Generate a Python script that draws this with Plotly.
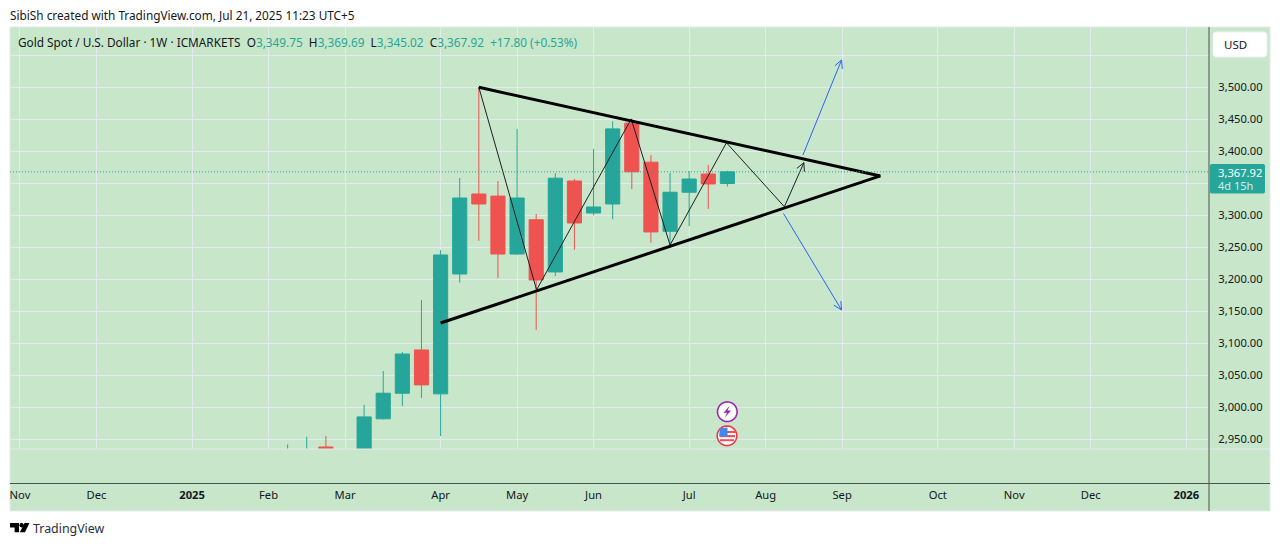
import math
import plotly.graph_objects as go

# ---- candle data (week index, 0 = week of 31 Mar 2025) ----
weeks  = [-8, -7, -6, -5, -4, -3, -2, -1, 0, 1, 2, 3, 4, 5, 6, 7, 8, 9, 10, 11, 12, 13, 14, 15]
opens  = [2861, 2882, 2938, 2858, 2910, 2982, 3022, 3089.6, 3021, 3208.3, 3333.3, 3330, 3239.5, 3293, 3211.5, 3353.6, 3303.6, 3317.7, 3444, 3383, 3275, 3336, 3364.5, 3349.75]
highs  = [2942, 2954, 2955, 2930, 3004, 3056.6, 3086.4, 3167.6, 3245.6, 3358.3, 3500, 3353.6, 3435, 3302, 3366, 3356.8, 3403.6, 3447, 3451, 3394, 3366, 3369, 3378.6, 3369.69]
lows   = [2855, 2877, 2833, 2833, 2903, 2981, 3002, 3014.6, 2955, 3195, 3260, 3202, 3238, 3121, 3205, 3246, 3300, 3294, 3341, 3257, 3249, 3283, 3310, 3345.02]
closes = [2882, 2934, 2858, 2910, 2985, 3022, 3083.3, 3035, 3238, 3327, 3317.7, 3239.5, 3327, 3199, 3358, 3288, 3313, 3435, 3368, 3274, 3336, 3356.7, 3349, 3367.92]

# ---- hand-drawn pattern lines ----
upper_x, upper_y = [2.0, 23.0], [3500, 3361.5]
lower_x, lower_y = [0.0, 23.0], [3131.7, 3361.5]
zig_x = [2.0, 5.02, 9.97, 12.0, 14.95, 17.98, 19.0]
zig_y = [3500, 3183.5, 3450.5, 3253.6, 3413.4, 3313.4, 3382.2]
up_x, up_y = [18.95, 20.97], [3394.2, 3542.7]
down_x, down_y = [17.93, 20.97], [3303, 3152]
last_price = 3367.92

# ---- axis labels ----
time_ticks  = [-22, -18, -13, -9, -5, 0, 4, 8, 13, 17, 21, 26, 30, 34, 39]
time_labels = ["Nov", "Dec", "<b>2025</b>", "Feb", "Mar", "Apr", "May", "Jun", "Jul", "Aug", "Sep", "Oct", "Nov", "Dec", "<b>2026</b>"]
price_ticks  = [2950, 3000, 3050, 3100, 3150, 3200, 3250, 3300, 3350, 3400, 3450, 3500, 3550]
price_labels = ["2,950.00", "3,000.00", "3,050.00", "3,100.00", "3,150.00", "3,200.00", "3,250.00", "3,300.00", "", "3,400.00", "3,450.00", "3,500.00", ""]

# ---- style / geometry ----
W, H = 1281, 546
L, R, T, B = 10, 1209, 27, 449
STEP = 19.12
XR = [(10 - 440.6) / STEP, (1209 - 440.6) / STEP]
YR = [3500 - (449 - 87.3) / 0.64, 3500 + (87.3 - 27) / 0.64]
BG, GRID, TEAL, RED, INK = "#c8e6c9", "#e3ebec", "#26a69a", "#ef5350", "#131722"
FONT = "Noto Sans"


def px(v):
    return (v - L) / (R - L)


def py(v):
    return (B - v) / (B - T)


def rect(x0, y0, x1, y1, fill, line=None, width=0, layer="above"):
    return dict(type="rect", xref="paper", yref="paper", x0=px(x0), x1=px(x1), y0=py(y0), y1=py(y1),
                fillcolor=fill, line=dict(color=line or fill, width=width), layer=layer)


def hline(x0, y, x1, color, width=1, layer="above"):
    return dict(type="line", xref="paper", yref="paper", x0=px(x0), x1=px(x1), y0=py(y), y1=py(y),
                line=dict(color=color, width=width), layer=layer)


def vline(x, y0, y1, color, width=1, layer="above"):
    return dict(type="line", xref="paper", yref="paper", x0=px(x), x1=px(x), y0=py(y0), y1=py(y1),
                line=dict(color=color, width=width), layer=layer)


def poly(points, fill, line=None, width=0):
    d = "M" + "L".join(f"{px(a):.5f},{py(b):.5f}" for a, b in points) + "Z"
    return dict(type="path", xref="paper", yref="paper", path=d, fillcolor=fill,
                line=dict(color=line or fill, width=width), layer="above")


def disc(cx, cy, r, fill, line=None, width=0):
    pts = [(cx + r * math.cos(i * math.pi / 24), cy + r * math.sin(i * math.pi / 24)) for i in range(48)]
    return poly(pts, fill, line, width)


def rounded(x0, y0, x1, y1, r, fill, line=None, width=0):
    pts = []
    for cx, cy, a0 in [(x1 - r, y0 + r, -90), (x1 - r, y1 - r, 0), (x0 + r, y1 - r, 90), (x0 + r, y0 + r, 180)]:
        for k in range(7):
            a = math.radians(a0 + k * 15)
            pts.append((cx + r * math.cos(a), cy + r * math.sin(a)))
    return poly(pts, fill, line, width)


def text(x, y, s, size=12, color=INK, anchor="left"):
    return dict(xref="paper", yref="paper", x=px(x), y=py(y), text=s, showarrow=False, xanchor=anchor, yanchor="middle",
                font=dict(family=FONT, size=size, color=color), borderpad=0, borderwidth=0)


def barbs(xs, ys, size=9, spread=27):
    """Open arrow head at the end of a segment, built in screen space and mapped back to data."""
    sx, sy = STEP, 0.64
    dx, dy = (xs[-1] - xs[-2]) * sx, (ys[-1] - ys[-2]) * sy
    ang = math.atan2(dy, dx)
    out_x, out_y = [], []
    for s in (1, -1):
        a = ang + math.pi + s * math.radians(spread)
        out_x.append(xs[-1] + size * math.cos(a) / sx)
        out_y.append(ys[-1] + size * math.sin(a) / sy)
    return [out_x[0], xs[-1], out_x[1]], [out_y[0], ys[-1], out_y[1]]


fig = go.Figure()
fig.add_trace(go.Candlestick(
    x=weeks, open=opens, high=highs, low=lows, close=closes, whiskerwidth=0, hoverinfo="skip",
    increasing=dict(line=dict(color=TEAL, width=1), fillcolor=TEAL),
    decreasing=dict(line=dict(color=RED, width=1), fillcolor=RED),
))


def add_line(xs, ys, color, width):
    fig.add_trace(go.Scatter(x=xs, y=ys, mode="lines", line=dict(color=color, width=width), hoverinfo="skip"))


add_line(zig_x, zig_y, "#1c1f26", 1)
hx, hy = barbs(zig_x[-2:], zig_y[-2:])
add_line(hx, hy, "#1c1f26", 1)
add_line(up_x, up_y, "#2962ff", 1)
hx, hy = barbs(up_x, up_y)
add_line(hx, hy, "#2962ff", 1)
add_line(down_x, down_y, "#2962ff", 1)
hx, hy = barbs(down_x, down_y)
add_line(hx, hy, "#2962ff", 1)
add_line(upper_x, upper_y, "#000000", 3)
add_line(lower_x, lower_y, "#000000", 3)

shapes = [
    rect(10, 27, 1270, 511, BG, "#e6e9ee", 1, layer="below"),
    hline(10, 449, 1270, GRID),
    hline(10, 483.5, 1270, "#4a524e"),
    vline(1209, 27, 511, "#4a524e"),
    dict(type="line", xref="x", yref="y", x0=XR[0], x1=XR[1], y0=last_price, y1=last_price,
         line=dict(color=TEAL, width=1, dash="1px,2px"), layer="above"),
    rounded(1213, 32, 1267, 57, 3, "#ffffff", "#eef0f3", 1),
    rounded(1210, 164, 1265, 193.5, 2, TEAL),
    # event markers
    disc(727.3, 411.7, 9.8, "#ffffff", "#9c27b0", 1.6),
    poly([(729.6, 405.8), (723.6, 412.8), (727, 412.8), (725, 417.6), (731, 410.6), (727.6, 410.6)], "#9c27b0"),
    disc(727, 435.8, 9.8, "#ffffff", "#f23645", 1.6),
    rect(720, 431, 736, 433, "#f0505c"),
    rect(720, 435, 735, 437.2, "#f0505c"),
    rect(720, 439.2, 734, 441.2, "#f0505c"),
    poly([(720, 429), (722, 428), (727.5, 427.5), (727.5, 436.5), (719, 436.5)], "#3d8bf0"),
    # TradingView mark
    poly([(10, 523), (19, 523), (19, 532.2), (14.6, 532.2), (14.6, 527.6), (10, 527.6)], "#000000"),
    disc(21.6, 525.2, 2.2, "#000000"),
    poly([(24.6, 523), (29.4, 523), (25, 532.2), (19.8, 532.2)], "#000000"),
]

value = lambda s: f'<span style="color:{TEAL}">{s}</span>'
legend = ("Gold Spot / U.S. Dollar · 1W · ICMARKETS  O" + value("3,349.75") + "  H" + value("3,369.69") +
          "  L" + value("3,345.02") + "  C" + value("3,367.92") + "  " + value("+17.80 (+0.53%)"))

annotations = [
    text(10, 15, "SibiSh created with TradingView.com, Jul 21, 2025 11:23 UTC+5", 11.8),
    text(18, 42, legend, 11.8),
    text(1224, 44.5, "USD", 11.5),
    text(1218, 172, "3,367.92", 11.2, "#ffffff"),
    text(1218, 185, "4d 15h", 11, "#d4eeeb"),
    text(33, 528, "TradingView", 12.4, "#2a2e39"),
]

fig.update_layout(
    width=W, height=H, autosize=False, showlegend=False,
    margin=dict(l=L, r=W - R, t=T, b=H - B, pad=0),
    paper_bgcolor="#ffffff", plot_bgcolor="rgba(0,0,0,0)",
    boxgap=0.26, boxgroupgap=0, shapes=shapes, annotations=annotations,
    font=dict(family=FONT, size=11.2, color=INK),
    xaxis=dict(type="linear", range=XR, rangeslider=dict(visible=False), tickmode="array", tickvals=time_ticks,
               ticktext=time_labels, showgrid=True, gridcolor=GRID, gridwidth=1, zeroline=False, showline=False,
               ticks="outside", ticklen=36, tickcolor="rgba(0,0,0,0)", tickfont=dict(family=FONT, size=11.2, color=INK)),
    yaxis=dict(type="linear", range=YR, side="right", tickmode="array", tickvals=price_ticks, ticktext=price_labels,
               showgrid=True, gridcolor=GRID, gridwidth=1, zeroline=False, showline=False,
               ticks="outside", ticklen=6, tickcolor="rgba(0,0,0,0)", tickfont=dict(family=FONT, size=11.2, color=INK)),
)

fig.write_html("out.html", config=dict(displayModeBar=False),
               post_script="document.body.style.margin='0';document.body.style.overflow='hidden';")
